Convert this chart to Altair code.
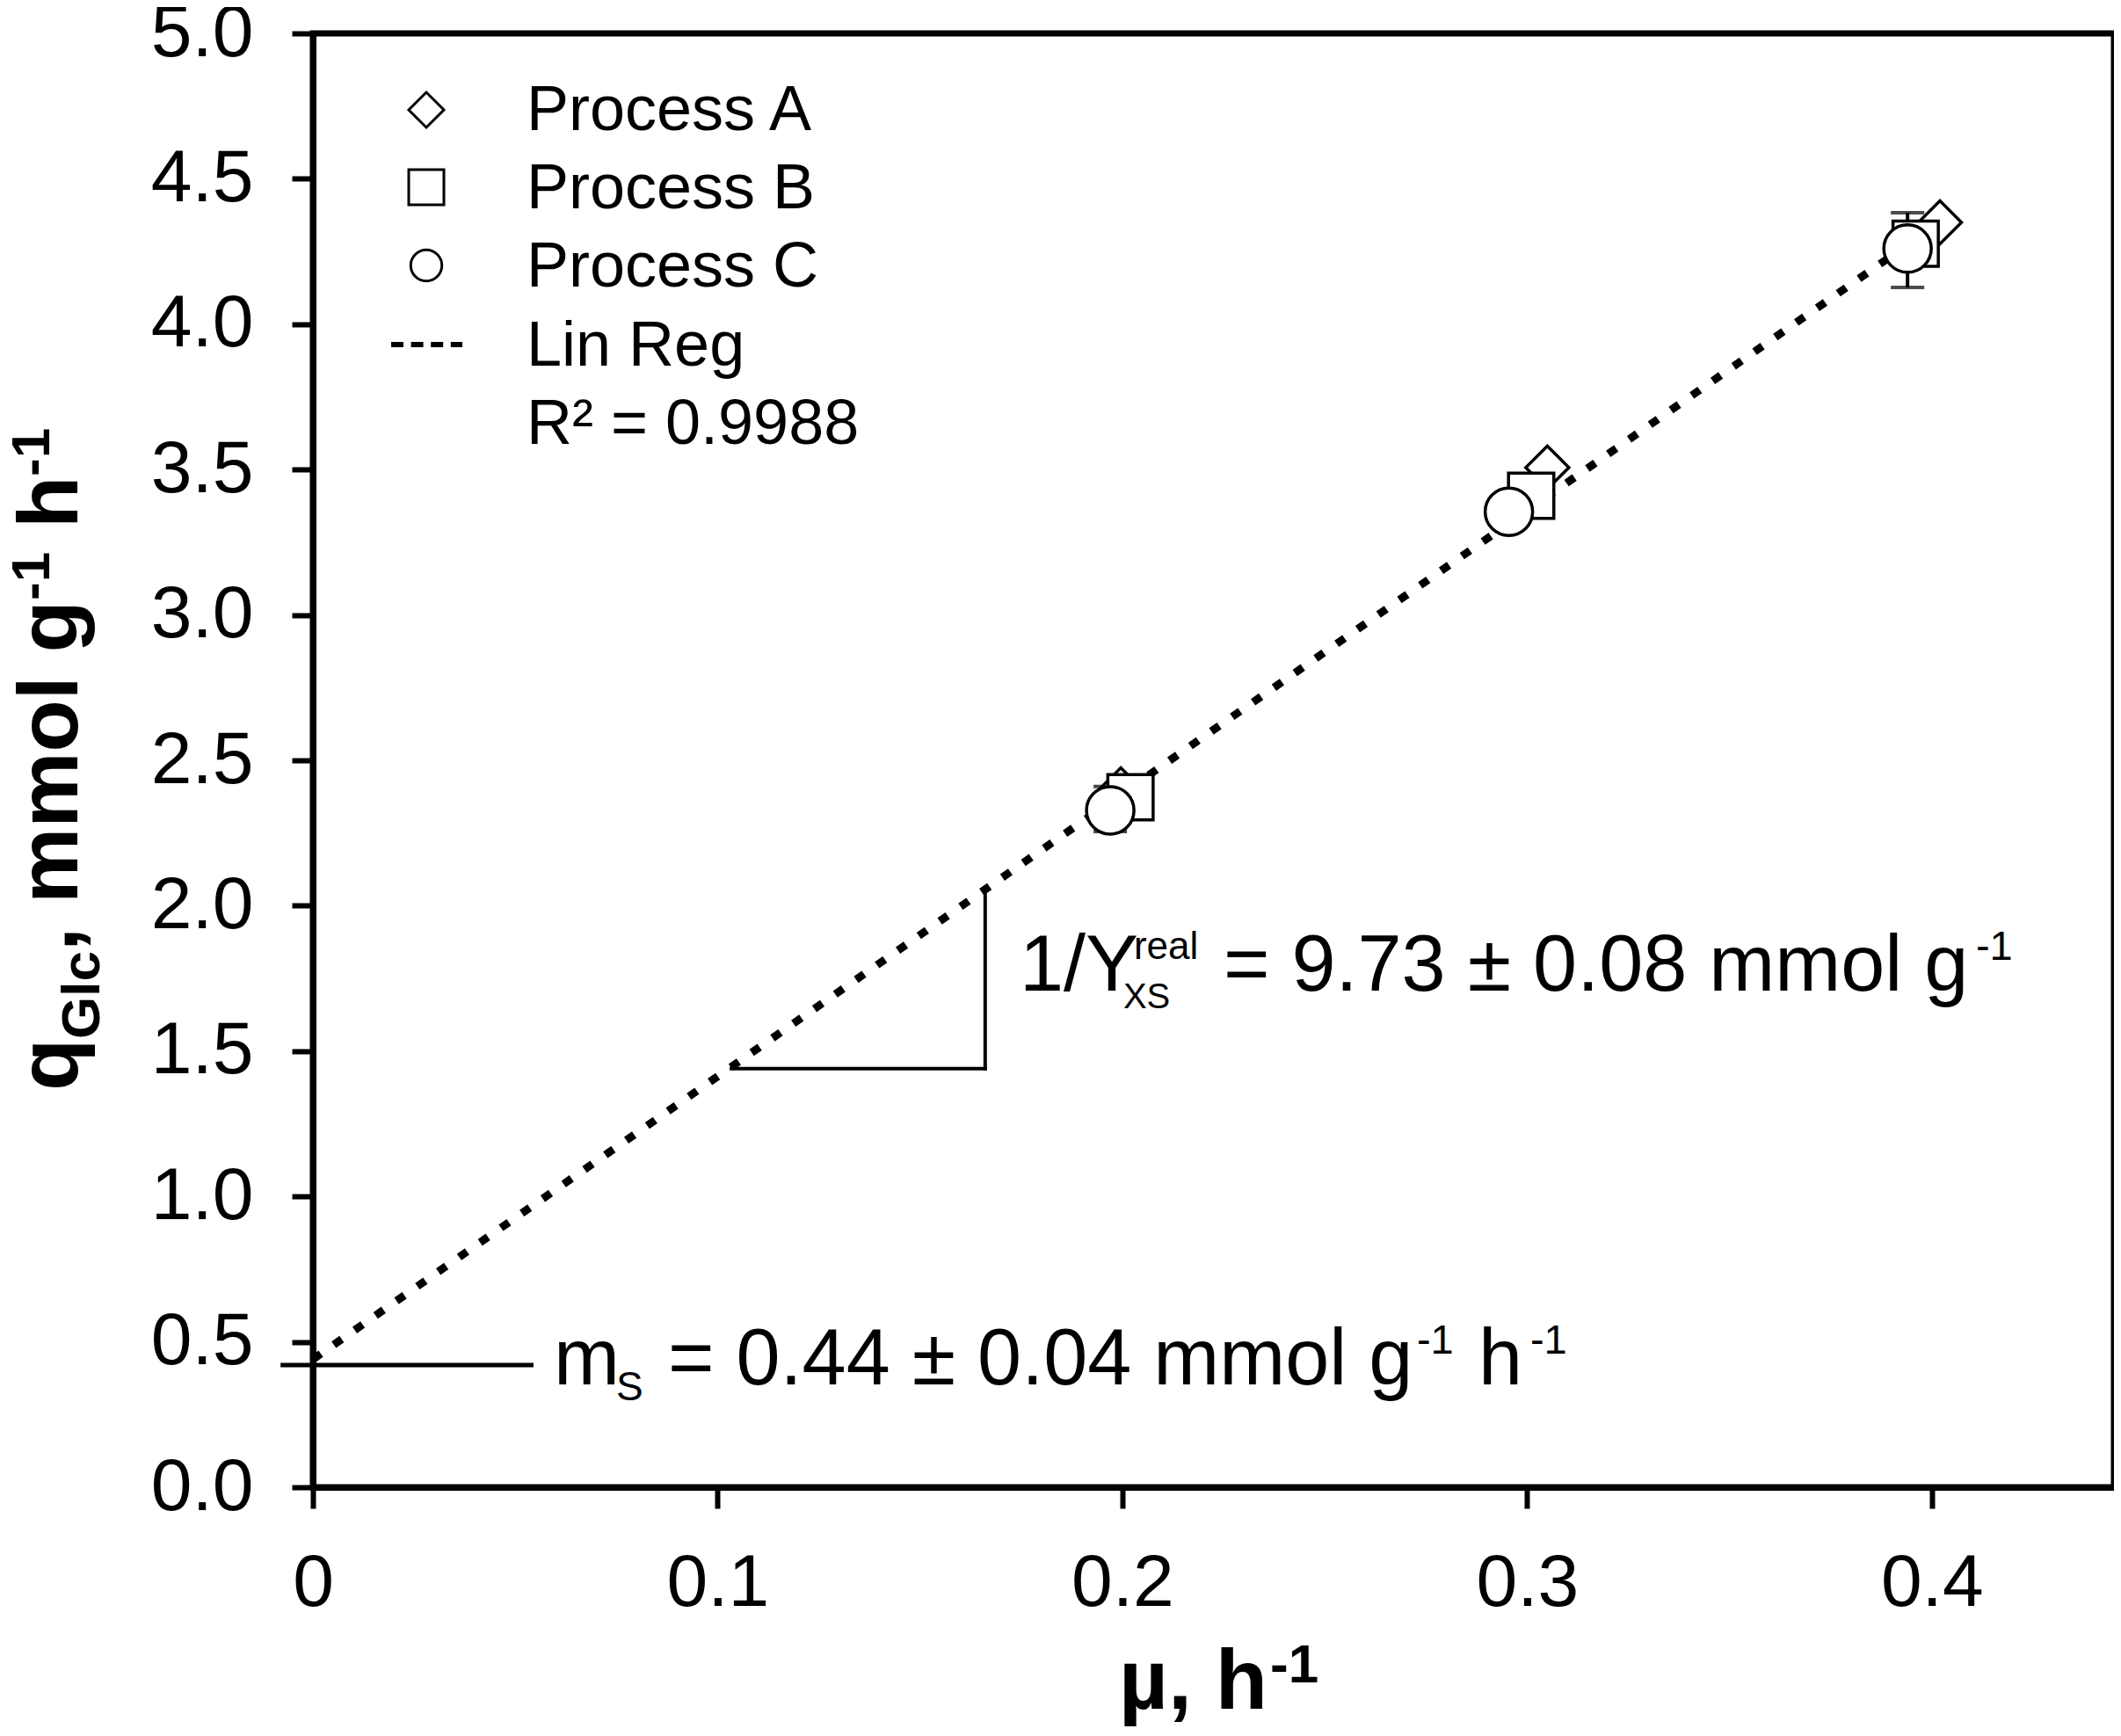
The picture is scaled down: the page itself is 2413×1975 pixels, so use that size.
import altair as alt
import pandas as pd

FONT = "Liberation Sans"

# ---- data ----
process = ["Process A", "Process A", "Process A",
           "Process B", "Process B", "Process B",
           "Process C", "Process C", "Process C"]
mu = [0.1996, 0.305, 0.402,
      0.202, 0.301, 0.396,
      0.197, 0.2955, 0.394]
q_glc = [2.40, 3.507, 4.35,
         2.373, 3.41, 4.277,
         2.328, 3.355, 4.26]

err_mu = [0.197, 0.394]
err_low = [2.255, 4.126]
err_high = [2.41, 4.383]

reg_mu = [0.0, 0.395]
reg_q = [0.44, 4.283]

ms_line_mu = [-0.008, 0.0545]
ms_line_q = [0.42]
tri_mu = [0.1034, 0.1661]
tri_q = [1.44, 2.037]

x_ticks = [0, 0.1, 0.2, 0.3, 0.4]
y_ticks = [0.0, 0.5, 1.0, 1.5, 2.0, 2.5, 3.0, 3.5, 4.0, 4.5, 5.0]

legend_labels = ["Process A", "Process B", "Process C", "Lin Reg", "R\u00b2 = 0.9988"]
legend_shapes = ["diamond", "square", "circle"]
legend_sizes = [1600, 1600, 1257]
shape_range = ["diamond", "square", "circle"]
size_range = [2400, 2916, 1150]

ms_anchor_mu = [0.0595]
ms_anchor_q = [0.354]
slope_anchor_mu = [0.1746]
slope_anchor_q = [1.708]

# ---- shared encodings ----
x_enc = alt.X("mu:Q",
              scale=alt.Scale(domain=[0, 0.445], nice=False, zero=False),
              axis=alt.Axis(values=x_ticks, title=None, labelFlush=False,
                            labelExpr="datum.value == 0 ? '0' : format(datum.value, '.1f')"))
y_enc = alt.Y("q:Q",
              scale=alt.Scale(domain=[0, 5], nice=False),
              axis=alt.Axis(values=y_ticks, format=".1f", title=None))

layers = []

# regression line
reg_df = pd.DataFrame({"mu": reg_mu, "q": reg_q})
layers.append(alt.Chart(reg_df).mark_line(color="black", strokeWidth=9, strokeDash=[11, 18])
              .encode(x=x_enc, y=y_enc))

# annotation lines
ms_df = pd.DataFrame({"mu": [ms_line_mu[0]], "mu2": [ms_line_mu[1]], "q": ms_line_q})
layers.append(alt.Chart(ms_df).mark_rule(color="black", strokeWidth=5)
              .encode(x=x_enc, x2=alt.X2("mu2"), y=y_enc))
tri_h = pd.DataFrame({"mu": [tri_mu[0]], "mu2": [tri_mu[1]], "q": [tri_q[0]]})
layers.append(alt.Chart(tri_h).mark_rule(color="black", strokeWidth=4, strokeCap="square")
              .encode(x=x_enc, x2=alt.X2("mu2"), y=y_enc))
tri_v = pd.DataFrame({"mu": [tri_mu[1]], "q": [tri_q[0]], "q2": [tri_q[1]]})
layers.append(alt.Chart(tri_v).mark_rule(color="black", strokeWidth=4, strokeCap="square")
              .encode(x=x_enc, y=y_enc, y2=alt.Y2("q2")))

# error bars (Process C)
eb_df = pd.DataFrame({"mu": err_mu, "q": err_low, "q2": err_high})
layers.append(alt.Chart(eb_df).mark_rule(color="black", strokeWidth=4)
              .encode(x=x_enc, y=y_enc, y2=alt.Y2("q2")))
cap_df = pd.DataFrame({"mu": err_mu + err_mu, "q": err_low + err_high})
layers.append(alt.Chart(cap_df).mark_tick(color="black", orient="horizontal", size=38, thickness=4)
              .encode(x=x_enc, y=y_enc))

# data points
pt_df = pd.DataFrame({"process": process, "mu": mu, "q": q_glc})
layers.append(alt.Chart(pt_df).mark_point(filled=True, fill="white", stroke="black",
                                          strokeWidth=3.5, opacity=1)
              .encode(x=x_enc, y=y_enc,
                      shape=alt.Shape("process:N",
                                      scale=alt.Scale(domain=legend_labels[:3], range=shape_range),
                                      legend=None),
                      size=alt.Size("process:O",
                                    scale=alt.Scale(domain=legend_labels[:3], range=size_range),
                                    legend=None)))


def data_text(mx, qy, text, dx, dy, size, bold=False):
    df = pd.DataFrame({"mu": mx, "q": qy})
    return alt.Chart(df).mark_text(text=text, align="left", baseline="alphabetic",
                                   dx=dx, dy=dy, fontSize=size, font=FONT, color="black",
                                   fontWeight="bold" if bold else "normal").encode(x=x_enc, y=y_enc)


def pix_text(px, py, text, size, bold=False, angle=0):
    df = pd.DataFrame({"k": [0]})
    kw = dict(text=text, align="left", baseline="alphabetic", fontSize=size, font=FONT,
              color="black", fontWeight="bold" if bold else "normal")
    if angle:
        kw["angle"] = angle
    return alt.Chart(df).mark_text(**kw).encode(x=alt.value(px), y=alt.value(py))


# m_S annotation
for t, dx, dy, fs in [("m", 0, 0, 90), ("S", 71, 18, 46),
                      ("= 0.44 \u00b1 0.04 mmol g", 130, 0, 90), ("-1", 982, -35, 47),
                      ("h", 1052, 0, 90), ("-1", 1111, -35, 47)]:
    layers.append(data_text(ms_anchor_mu, ms_anchor_q, t, dx, dy, fs))

# 1/Y annotation
for t, dx, dy, fs in [("1/Y", 0, 0, 90), ("XS", 118, 20, 40), ("real", 130, -36, 44),
                      ("= 9.73 \u00b1 0.08 mmol g", 232, 0, 90), ("-1", 1088, -35, 47)]:
    layers.append(data_text(slope_anchor_mu, slope_anchor_q, t, dx, dy, fs))

# legend
leg_sym_y = [87, 175, 264]
for shp, yy, sz in zip(legend_shapes, leg_sym_y, legend_sizes):
    layers.append(alt.Chart(pd.DataFrame({"k": [0]}))
                  .mark_point(shape=shp, size=sz, filled=True, fill="white", stroke="black",
                              strokeWidth=3, opacity=1)
                  .encode(x=alt.value(129), y=alt.value(yy)))
layers.append(alt.Chart(pd.DataFrame({"k": [0]}))
              .mark_rule(color="black", strokeWidth=6, strokeDash=[14, 8.6])
              .encode(x=alt.value(89), x2=alt.value(170), y=alt.value(354)))
for i, lab in enumerate(legend_labels):
    layers.append(pix_text(243, 110 + i * 89.2, lab, 72))

# x-axis title
layers.append(pix_text(917, 1906, "\u00b5, h", 97, bold=True))
layers.append(pix_text(1089, 1876, "-1", 62, bold=True))

# y-axis title (rotated)
for t, px, py, fs in [("q", -268, 1203, 97), ("Glc", -243, 1144, 62),
                      (", mmol g", -268, 1044, 97), ("-1", -300, 645, 62),
                      ("h", -268, 563, 97), ("-1", -300, 504, 62)]:
    layers.append(pix_text(px, py, t, fs, bold=True, angle=270))

chart = (alt.layer(*layers)
         .properties(width=2049, height=1654,
                     padding={"left": 348, "top": 30, "right": 0, "bottom": 275},
                     autosize=alt.AutoSizeParams(type="none"),
                     background="white")
         .configure_view(stroke="black", strokeWidth=7)
         .configure_axis(grid=False, domainColor="black", domainWidth=7,
                         tickColor="black", tickWidth=6, tickSize=24,
                         labelFont=FONT, labelFontSize=84, labelColor="black",
                         labelPadding=44, labelOverlap=False, labelBound=False))

chart.save("out.html", embed_options={"renderer": "svg", "actions": False})
